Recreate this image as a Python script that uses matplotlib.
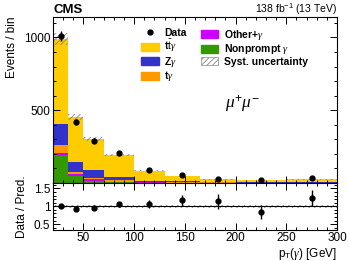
import numpy as np
import matplotlib
matplotlib.use("Agg")
import matplotlib.pyplot as plt
from matplotlib.ticker import MultipleLocator
from matplotlib.patches import Patch
from matplotlib.lines import Line2D

plt.rcParams['font.family'] = ['Liberation Sans', 'DejaVu Sans']
plt.rcParams['mathtext.fontset'] = 'custom'
plt.rcParams['mathtext.rm'] = 'Liberation Sans'
plt.rcParams['mathtext.it'] = 'Liberation Serif:italic'
plt.rcParams['hatch.linewidth'] = 0.6

# bin edges of pT(gamma) [GeV]
edges = [20, 35, 50, 70, 100, 130, 165, 200, 250, 300]

# stacked predictions (events / bin), bottom to top
nonprompt = [192, 50, 16, 6, 3, 2, 1, 1, 1]
other = [15, 12, 9, 4, 2, 1, 1, 1, 1]
tgamma = [53, 15, 9, 8, 4, 3, 2, 1, 1]
zgamma = [144, 69, 55, 22, 7, 5, 3, 2, 2]
ttgamma = [586, 308, 214, 152, 68, 37, 18, 16, 20]

data = [1010, 418, 291, 203, 89, 56, 28.5, 17.6, 31]
syst = 0.04  # relative systematic uncertainty

stack = [
    (nonprompt, '#339900', r'Nonprompt $\gamma$'),
    (other, '#cc00ff', r'Other+$\gamma$'),
    (tgamma, '#ff9900', r't$\gamma$'),
    (zgamma, '#3333cc', r'Z$\gamma$'),
    (ttgamma, '#ffcc00', r't$\bar{\rm t}$$\gamma$'),
]

edges = np.array(edges, dtype=float)
centers = 0.5 * (edges[1:] + edges[:-1])
data = np.array(data)
err = np.sqrt(data)

fig = plt.figure(figsize=(3.49, 2.61), dpi=100)
ax = fig.add_axes([53/349, 1-183/261, 284/349, 166/261])
rx = fig.add_axes([53/349, 1-229.5/261, 284/349, 46.5/261], sharex=ax)

bottom = np.zeros(len(centers))
for vals, col, lab in stack:
    vals = np.array(vals, dtype=float)
    ax.stairs(bottom + vals, edges, baseline=bottom, fill=True, color=col, lw=0)
    bottom = bottom + vals
total = bottom

hatch_kw = dict(fill=True, facecolor='none', edgecolor='#888888', lw=0, hatch='//////')
ax.stairs(total*(1+syst), edges, baseline=total*(1-syst), **hatch_kw)
ax.errorbar(centers, data, yerr=err, fmt='o', color='black', ms=3.5, elinewidth=1, capsize=0)

ratio = data / total
rerr = err / total
rx.stairs(np.full(len(centers), 1+syst), edges, baseline=np.full(len(centers), 1-syst), **hatch_kw)
rx.axhline(1, color='black', lw=0.8)
rx.errorbar(centers, ratio, yerr=rerr, fmt='o', color='black', ms=3.5, elinewidth=1, capsize=0)

ax.set_xlim(20, 300)
ax.set_ylim(0, 1140)
rx.set_ylim(0.35, 1.65)
ax.set_yticks([500, 1000])
ax.yaxis.set_minor_locator(MultipleLocator(100))
rx.set_yticks([0.5, 1, 1.5])
rx.set_yticklabels(['0.5', '1', '1.5'])
rx.yaxis.set_minor_locator(MultipleLocator(0.1))
rx.xaxis.set_major_locator(MultipleLocator(50))
rx.xaxis.set_minor_locator(MultipleLocator(10))
for a in (ax, rx):
    a.tick_params(which='both', direction='in', top=True, right=True, labelsize=8.5, pad=2)
    a.tick_params(which='major', length=5, width=0.7)
    a.tick_params(which='minor', length=2.5, width=0.7)
    for s in a.spines.values():
        s.set_linewidth(0.8)
ax.tick_params(labelbottom=False)

ax.set_ylabel('Events / bin', fontsize=8.5, loc='top', labelpad=4)
rx.set_ylabel('Data / Pred.', fontsize=8.5, labelpad=4)
rx.set_xlabel(r'p$_{\rm T}$($\gamma$) [GeV]', fontsize=8.5, loc='right', labelpad=1)

fig.text(53/349, 1-10/261, 'CMS', fontsize=9.5, fontweight='bold', va='center', ha='left')
fig.text(337/349, 1-9/261, r'138 fb$^{-1}$ (13 TeV)', fontsize=7.5, va='center', ha='right')
ax.text(0.605, 0.45, r'$\mu^{+}\mu^{-}$', transform=ax.transAxes, fontsize=12.5)

handles1 = [Line2D([], [], marker='o', color='black', ls='', ms=3.5)] + \
    [Patch(color=c) for v, c, l in stack[::-1][:3]]
labels1 = ['Data'] + [l for v, c, l in stack[::-1][:3]]
handles2 = [Patch(color=stack[1][1]), Patch(color=stack[0][1]),
            Patch(facecolor='white', edgecolor='#888888', hatch='//////', lw=0.5)]
labels2 = [stack[1][2], stack[0][2], 'Syst. uncertainty']
leg_kw = dict(frameon=False, handlelength=1.7, handleheight=0.8,
              labelspacing=0.05, handletextpad=0.55, borderaxespad=0, borderpad=0,
              prop={'weight': 'bold', 'size': 7.5})
l1 = ax.legend(handles1, labels1, loc='upper left', bbox_to_anchor=(0.31, 0.935), **leg_kw)
ax.add_artist(l1)
ax.legend(handles2, labels2, loc='upper left', bbox_to_anchor=(0.52, 0.935), **leg_kw)

fig.savefig('out.png', dpi=100)
